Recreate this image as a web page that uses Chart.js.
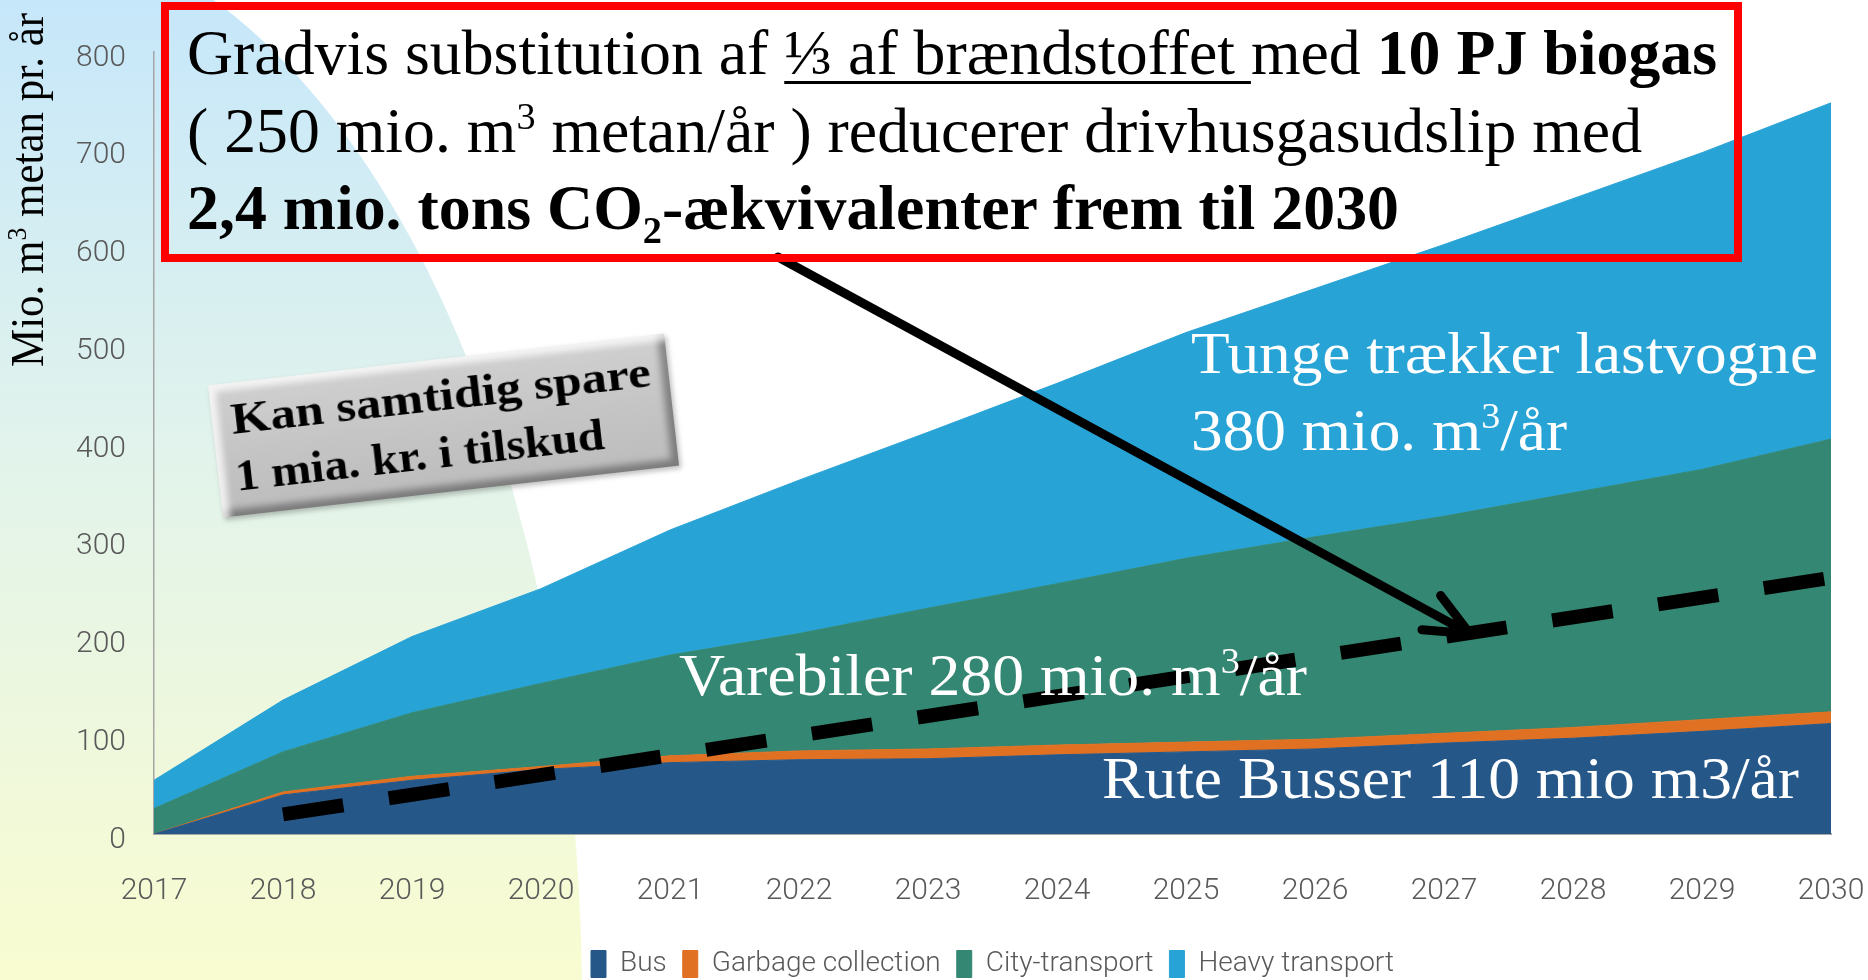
<!DOCTYPE html>
<html>
<head>
<meta charset="utf-8">
<script src="https://cdn.jsdelivr.net/npm/chart.js@4.4.1/dist/chart.umd.min.js"></script>
<style>
  html, body { margin: 0; padding: 0; background: #fff; }
  #wrap { position: relative; width: 1868px; height: 980px; overflow: hidden; }
  #chart { position: absolute; left: 0; top: 0; }
  .txt { position: absolute; white-space: nowrap; line-height: 1; font-family: 'Liberation Serif', 'Times New Roman', serif; transform-origin: 0 0; color: #000; }
  .txt sup { font-size: 0.6em; line-height: 0; vertical-align: 0.62em; }
  .txt sub { font-size: 0.6em; line-height: 0; vertical-align: -0.38em; }
  .txt u { text-decoration-thickness: 3px; text-underline-offset: 7px; }
  .white { color: #fff; }
  #redbox { position: absolute; left: 161px; top: 2px; width: 1565px; height: 244px; border: 8px solid #ff0000; }
  #graybox {
    position: absolute; left: 214px; top: 359px; width: 459px; height: 133px;
    background: linear-gradient(180deg, #d0d0d0 0%, #c4c4c4 55%, #bcbcbc 100%);
    box-shadow: inset 7px 7px 6px rgba(255,255,255,0.75), inset -7px -7px 7px rgba(0,0,0,0.35), 2px 3px 5px rgba(0,0,0,0.25);
    transform: rotate(-6.5deg);
  }
  #graybox .txt { font-weight: bold; }
</style>
</head>
<body>
<div id="wrap">
  <canvas id="chart" width="1868" height="980"></canvas>

  <div class="txt" style="left:5px; top:367px; font-size:46px;" data-w="354" data-pre="rotate(-90deg)">Mio. m<sup>3</sup> metan pr. år</div>

  <div id="redbox"></div>
  <div class="txt" style="left:187px; top:22px; font-size:63px;" data-w="1530">Gradvis substitution af <u>⅓ af brændstoffet </u>med <b>10 PJ biogas</b></div>
  <div class="txt" style="left:187px; top:100px; font-size:63px;" data-w="1455">( 250 mio. m<sup>3</sup> metan/år ) reducerer drivhusgasudslip med</div>
  <div class="txt" style="left:187px; top:177px; font-size:63px; font-weight:bold;" data-w="1212">2,4 mio. tons CO<sub>2</sub>-ækvivalenter frem til 2030</div>

  <div id="graybox">
    <div class="txt" style="left:19px; top:14px; font-size:45px;" data-w="425">Kan samtidig spare</div>
    <div class="txt" style="left:17px; top:71px; font-size:45px;" data-w="374">1 mia. kr. i tilskud</div>
  </div>

  <div class="txt white" style="left:1191px; top:323px; font-size:60px;" data-w="627">Tunge trækker lastvogne</div>
  <div class="txt white" style="left:1191px; top:400px; font-size:60px;" data-w="376">380 mio. m<sup>3</sup>/år</div>
  <div class="txt white" style="left:679px; top:645px; font-size:60px;" data-w="628">Varebiler 280 mio. m<sup>3</sup>/år</div>
  <div class="txt white" style="left:1102px; top:748px; font-size:60px;" data-w="697">Rute Busser 110 mio m3/år</div>
</div>

<script>
// data (Mio. m3 metan pr. år)
const years = ['2017', '2018', '2019', '2020', '2021', '2022', '2023', '2024', '2025', '2026', '2027', '2028', '2029', '2030'];
const busValues     = [0, 40, 55, 66, 73, 76, 77, 81, 84, 87, 93, 98, 105, 113];
const garbageValues = [0, 3, 4, 3, 7, 9, 10, 10, 10, 10, 10, 11, 12, 12];
const cityValues    = [26, 41, 65, 85, 103, 120, 144, 165, 188, 207, 222, 240, 256, 279];
const heavyValues   = [29, 53, 78, 97, 128, 157, 180, 205, 231, 254, 278, 301, 324, 344];
// 250 mio. m3 substitution line, 2018 -> 2030
const substitutionValues = [null, 20, null, null, null, null, null, null, null, null, null, null, null, 262];
const yTickValues = [0, 100, 200, 300, 400, 500, 600, 700, 800];

const seriesNames  = ['Bus', 'Garbage collection', 'City-transport', 'Heavy transport'];
const seriesColors = ['#255889', '#e07022', '#348772', '#28a3d6'];

const axisFont = "Roboto, 'Liberation Sans', sans-serif";

// soft slide background with the curved blue/yellow wedge
const backdrop = {
  id: 'backdrop',
  beforeDraw(chart) {
    const ctx = chart.ctx;
    ctx.save();
    ctx.fillStyle = '#ffffff';
    ctx.fillRect(0, 0, chart.width, chart.height);
    const g = ctx.createLinearGradient(0, 0, 0, chart.height);
    g.addColorStop(0, '#c6e7fa');
    g.addColorStop(0.45, '#e1f3ec');
    g.addColorStop(1, '#f9fcd0');
    ctx.beginPath();
    ctx.ellipse(0, 1000, 582, 1075, 0, 0, Math.PI * 2);
    ctx.fillStyle = g;
    ctx.fill();
    ctx.restore();
  }
};

// arrow from the text box down onto the substitution line
const arrow = {
  id: 'arrow',
  afterDraw(chart) {
    const ctx = chart.ctx;
    const x0 = 778, y0 = 257;
    const x1 = chart.scales.x.getPixelForValue(10.2);
    const y1 = chart.scales.y.getPixelForValue(205);
    const ang = Math.atan2(y0 - y1, x0 - x1);
    const len = 48, spread = 24 * Math.PI / 180;
    ctx.save();
    ctx.strokeStyle = '#000';
    ctx.lineWidth = 9;
    ctx.lineCap = 'round';
    ctx.lineJoin = 'round';
    ctx.beginPath();
    ctx.moveTo(x0, y0);
    ctx.lineTo(x1, y1);
    ctx.moveTo(x1 + len * Math.cos(ang + spread), y1 + len * Math.sin(ang + spread));
    ctx.lineTo(x1, y1);
    ctx.lineTo(x1 + len * Math.cos(ang - spread), y1 + len * Math.sin(ang - spread));
    ctx.stroke();
    ctx.restore();
  }
};

const stackValues = [busValues, garbageValues, cityValues, heavyValues];
const datasets = stackValues.map((vals, i) => ({
  label: seriesNames[i],
  data: vals,
  backgroundColor: seriesColors[i],
  borderColor: seriesColors[i],
  borderWidth: 1,
  pointRadius: 0,
  tension: 0,
  fill: i === 0 ? 'origin' : '-1',
  stack: 'transport'
}));
datasets.push({
  label: 'Substitution',
  data: substitutionValues,
  borderColor: '#000',
  backgroundColor: '#000',
  borderWidth: 14,
  borderDash: [61, 46],
  borderCapStyle: 'butt',
  pointRadius: 0,
  spanGaps: true,
  fill: false,
  stack: 'trend',
  order: -1
});

new Chart(document.getElementById('chart'), {
  type: 'line',
  data: { labels: years, datasets },
  options: {
    responsive: false,
    animation: false,
    layout: { padding: { left: 0, right: 0, top: 52, bottom: -8 } },
    plugins: {
      tooltip: { enabled: false },
      legend: {
        position: 'bottom',
        fullSize: false,
        labels: {
          filter: item => item.datasetIndex < 4,
          boxWidth: 15,
          boxHeight: 27,
          padding: 16,
          color: '#595959',
          font: { family: axisFont, size: 28, weight: 300 }
        }
      }
    },
    scales: {
      x: {
        grid: { display: false },
        border: { display: true, color: '#a6a6a6', width: 2 },
        ticks: { color: '#595959', font: { family: axisFont, size: 30, weight: 300 }, padding: 31, maxRotation: 0 },
        afterFit: s => { s.height = 100; s.paddingLeft = 0; s.paddingRight = 37; }
      },
      y: {
        stacked: true,
        min: 0,
        max: 800,
        grid: { display: false },
        border: { display: true, color: '#a6a6a6', width: 1.5 },
        afterBuildTicks: s => { s.ticks = yTickValues.map(v => ({ value: v })); },
        ticks: { color: '#595959', font: { family: axisFont, size: 30, weight: 300 }, padding: 20, labelOffset: 6 },
        afterFit: s => { s.width = 154; s.paddingTop = 0; s.paddingBottom = 0; }
      }
    }
  },
  plugins: [backdrop, arrow]
});

// squeeze the slide texts to the widths they have in the picture
function fitTexts() {
  document.querySelectorAll('[data-w]').forEach(el => {
    el.style.transform = 'none';
    const w = el.getBoundingClientRect().width;
    const s = parseFloat(el.dataset.w) / w;
    el.style.transform = (el.dataset.pre || '') + ' scaleX(' + s.toFixed(4) + ')';
  });
}
fitTexts();
if (document.fonts) document.fonts.ready.then(fitTexts);
</script>
</body>
</html>
